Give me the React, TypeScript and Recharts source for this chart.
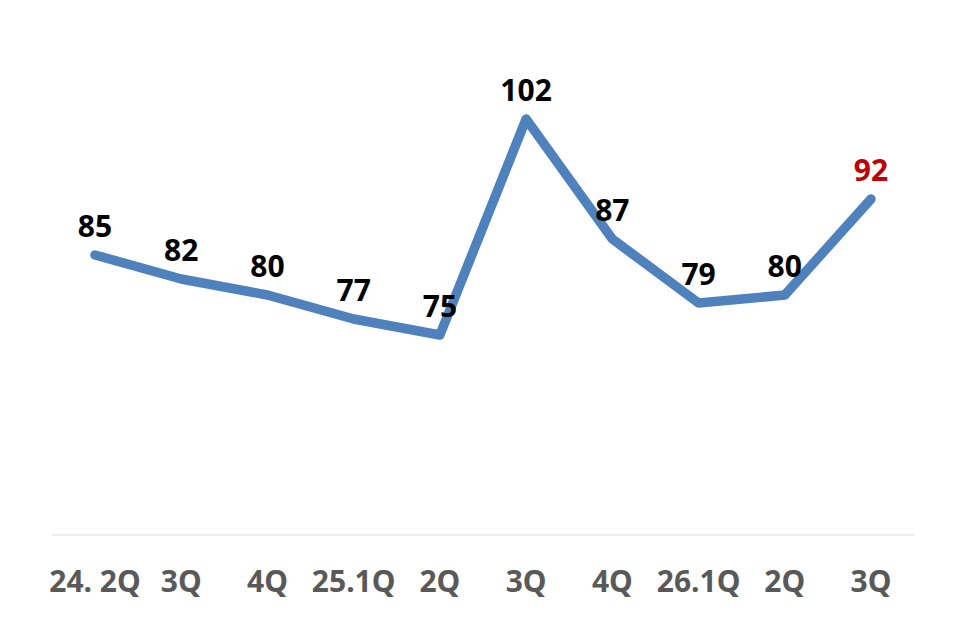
// Quarterly index — single thick line with value labels, last point highlighted in red.
import { LineChart, Line, XAxis, YAxis, LabelList } from 'recharts';

const quarters = ['24. 2Q', '3Q', '4Q', '25.1Q', '2Q', '3Q', '4Q', '26.1Q', '2Q', '3Q'];
const values = [85, 82, 80, 77, 75, 102, 87, 79, 80, 92];

const data = quarters.map((q, i) => ({ key: `${i}`, q, v: values[i] }));

const FONT = "'Noto Sans', sans-serif";

function QuarterTick({ x, y, payload }: { x?: number; y?: number; payload?: { value: string } }) {
  return (
    <text x={x} y={(y ?? 0) + 49} textAnchor="middle" fill="#595959"
          fontFamily={FONT} fontWeight={700} fontSize={30}>
      {payload?.value}
    </text>
  );
}

function ValueLabel(props: { x?: number; y?: number; value?: number; index?: number }) {
  const { x = 0, y = 0, value, index } = props;
  const last = index === values.length - 1;
  return (
    <text x={x} y={y - 18} textAnchor="middle" fill={last ? '#C00000' : '#000000'}
          fontFamily={FONT} fontWeight={700} fontSize={30}>
      {value}
    </text>
  );
}

export default function App() {
  return (
    <div style={{ position: 'absolute', left: 0, top: 0, width: 974, height: 626, background: '#fff' }}>
      <LineChart width={974} height={626} data={data}
                 margin={{ top: 55, right: 60, bottom: 0, left: 52 }}>
        <XAxis dataKey="key" height={91} padding={{ left: 43, right: 43 }}
               tick={(p: any) => <QuarterTick {...p} payload={{ value: quarters[Number(p.payload.value)] }} />}
               axisLine={{ stroke: '#D9D9D9', strokeWidth: 1 }} tickLine={false} interval={0} />
        <YAxis hide domain={[50, 110]} />
        <Line dataKey="v" stroke="#4F81BD" strokeWidth={9.5} strokeLinecap="round" strokeLinejoin="round"
              dot={false} isAnimationActive={false}>
          <LabelList dataKey="v" content={(p: any) => <ValueLabel {...p} />} />
        </Line>
      </LineChart>
    </div>
  );
}
